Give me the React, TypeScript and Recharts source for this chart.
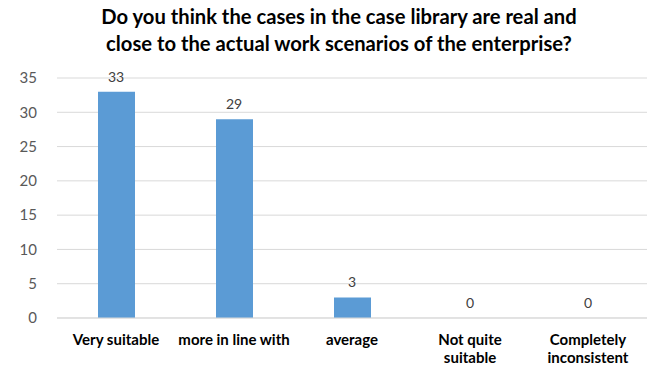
import React from "react";
import { ComposedChart, Bar, Line, XAxis, YAxis, CartesianGrid, LabelList } from "recharts";

const categories = ["Very suitable", "more in line with", "average", "Not quite suitable", "Completely inconsistent"];
const categoryLines = [["Very suitable"], ["more in line with"], ["average"], ["Not quite", "suitable"], ["Completely", "inconsistent"]];
const counts = [33, 29, 3, 0, 0];
const yTicks = [0, 5, 10, 15, 20, 25, 30, 35];
const titleLines = [
  "Do you think the cases in the case library are real and",
  "close to the actual work scenarios of the enterprise?",
];

const data = categories.map((c, i) => ({ name: c, value: counts[i] }));

const FONT = "Lato, 'Open Sans', sans-serif";

const XTick = (props: any) => {
  const { x, y, index } = props;
  const lines = categoryLines[index] || [];
  return (
    <g transform={`translate(${x},${y})`}>
      {lines.map((l: string, i: number) => (
        <text key={i} x={0} y={i * 18} dy={19} textAnchor="middle" fill="#000" fontSize={15} fontWeight="bold" fontFamily={FONT}>
          {l}
        </text>
      ))}
    </g>
  );
};

export default function App() {
  return (
    <div style={{ position: "absolute", left: 0, top: 0, width: 649, height: 367, background: "#fff" }}>
      <div
        style={{
          position: "absolute",
          left: 0,
          top: 3,
          width: 678,
          textAlign: "center",
          fontFamily: FONT,
          fontWeight: "bold",
          fontSize: 20.2,
          lineHeight: "27px",
          color: "#000",
        }}
      >
        {titleLines.map((t, i) => (
          <div key={i}>{t}</div>
        ))}
      </div>
      <ComposedChart
        width={649}
        height={367}
        data={data}
        margin={{ top: 78, right: 2, left: 0, bottom: 0 }}
      >
        <CartesianGrid vertical={false} stroke="#d9d9d9" />
        <XAxis
          dataKey="name"
          height={49}
          tickLine={false}
          axisLine={{ stroke: "#d9d9d9" }}
          tick={<XTick />}
          interval={0}
        />
        <YAxis
          domain={[0, 35]}
          ticks={yTicks}
          width={57}
          axisLine={false}
          tickLine={false}
          tickMargin={14}
          tick={{ fill: "#595959", fontSize: 15, fontFamily: FONT }}
        />
        <Bar dataKey="value" fill="#5b9bd5" barSize={37} isAnimationActive={false} />
        <Line dataKey="value" stroke="none" dot={false} activeDot={false} isAnimationActive={false} legendType="none">
          <LabelList dataKey="value" position="top" offset={10} fill="#404040" fontSize={14} fontFamily={FONT} />
        </Line>
      </ComposedChart>
    </div>
  );
}
